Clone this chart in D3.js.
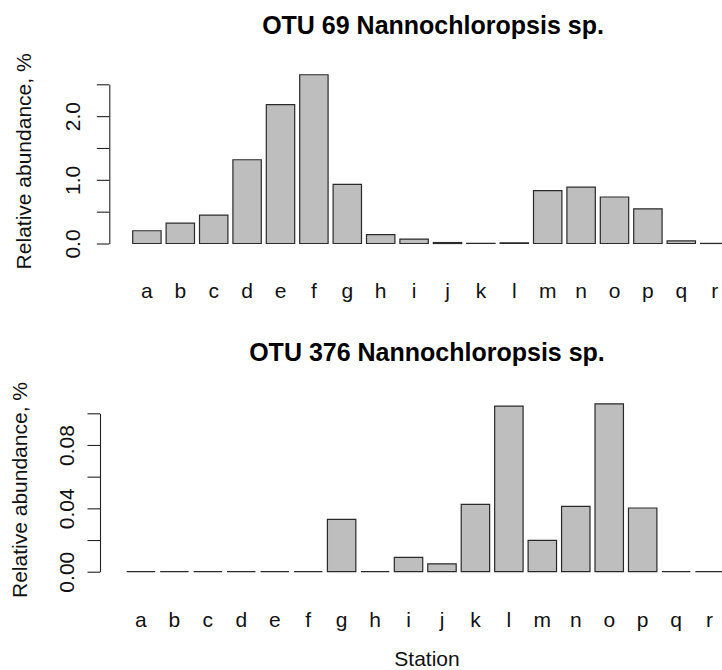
<!DOCTYPE html>
<html>
<head>
<meta charset="utf-8">
<script src="https://cdn.jsdelivr.net/npm/d3@7"></script>
<style>
  html, body { margin: 0; padding: 0; background: #fff; }
  svg { display: block; font-family: "Liberation Sans", Arial, Helvetica, sans-serif; }
</style>
</head>
<body>
<svg id="chart" width="722" height="670"></svg>
<script>
// Sampling stations, shared by both panels
const stations = ["a","b","c","d","e","f","g","h","i","j","k","l","m","n","o","p","q","r"];

// Relative abundance (%) of OTU 69 at each station
const otu69 = [0.20, 0.32, 0.445, 1.315, 2.18, 2.65, 0.93, 0.14, 0.07, 0.015, 0.004, 0.01,
               0.83, 0.885, 0.73, 0.545, 0.04, 0.002];

// Relative abundance (%) of OTU 376 at each station
const otu376 = [0, 0, 0, 0, 0, 0, 0.033, 0, 0.009, 0.005, 0.0425, 0.1045,
                0.0198, 0.0413, 0.106, 0.0402, 0, 0];

// Y-axis ticks and the subset that carries a label
const ticks69 = [0, 0.5, 1.0, 1.5, 2.0, 2.5];
const labels69 = ["0.0", "", "1.0", "", "2.0", ""];
const ticks376 = [0, 0.02, 0.04, 0.06, 0.08, 0.10];
const labels376 = ["0.00", "", "0.04", "", "0.08", ""];

const titles = ["OTU 69 Nannochloropsis sp.", "OTU 376 Nannochloropsis sp."];
const yTitle = "Relative abundance, %";
const xTitle = "Station";

const svg = d3.select("#chart");
svg.append("rect").attr("width", 722).attr("height", 670).attr("fill", "#fff");

// Each panel's plot region runs past the right edge of the page
const panels = [
  { values: otu69, ticks: ticks69, labels: labels69, title: titles[0],
    axisX: 109.3, yBase: 243.5, yTop: 84.3, xStart: 130.2, xEnd: 731.4,
    tickGap: 29, yTitleX: 31, titleY: 34, titleX: 433, labelY: 298 },
  { values: otu376, ticks: ticks376, labels: labels376, title: titles[1],
    axisX: 100, yBase: 571.7, yTop: 413.3, xStart: 124.2, xEnd: 726.3,
    tickGap: 26, yTitleX: 27, titleY: 361, titleX: 427, labelY: 627 }
];

panels.forEach(p => {
  const g = svg.append("g");

  const x = d3.scaleBand()
    .domain(stations)
    .range([p.xStart, p.xEnd])
    .paddingInner(0.15)
    .paddingOuter(0.075);

  const y = d3.scaleLinear()
    .domain([p.ticks[0], p.ticks[p.ticks.length - 1]])
    .range([p.yBase, p.yTop]);

  // Bars: drawn as paths so zero-height bars still show their outline
  g.selectAll("path.bar")
    .data(p.values)
    .join("path")
    .attr("class", "bar")
    .attr("d", (v, i) => {
      const path = d3.path();
      const yv = y(v);
      path.rect(x(stations[i]), yv, x.bandwidth(), y(0) - yv);
      return path.toString();
    })
    .attr("fill", "#bebebe")
    .attr("stroke", "#2a2a2a")
    .attr("stroke-width", 1.2);

  // Y axis with vertical tick labels
  const axis = d3.axisLeft(y)
    .tickValues(p.ticks)
    .tickFormat((d, i) => p.labels[i])
    .tickSizeInner(12.5)
    .tickSizeOuter(0);

  const ag = g.append("g")
    .attr("transform", `translate(${p.axisX},0)`)
    .call(axis);
  ag.select(".domain").attr("stroke", "#222").attr("stroke-width", 1.1);
  ag.selectAll(".tick line").attr("stroke", "#222").attr("stroke-width", 1.1);
  ag.selectAll(".tick text")
    .attr("transform", "rotate(-90)")
    .attr("x", 0)
    .attr("y", -p.tickGap)
    .attr("dy", 0)
    .attr("text-anchor", "middle")
    .attr("fill", "#111")
    .style("font-family", "'Liberation Sans', Arial, sans-serif")
    .style("font-size", "21px");

  // Station labels under the bars
  g.selectAll("text.xlab")
    .data(stations)
    .join("text")
    .attr("class", "xlab")
    .attr("x", d => x(d) + x.bandwidth() / 2)
    .attr("y", p.labelY)
    .attr("text-anchor", "middle")
    .attr("fill", "#111")
    .style("font-size", "21px")
    .text(d => d);

  // Y-axis title
  g.append("text")
    .attr("transform", `translate(${p.yTitleX},${(p.yBase + p.yTop) / 2 - 2.5}) rotate(-90)`)
    .attr("text-anchor", "middle")
    .attr("fill", "#111")
    .style("font-size", "21px")
    .text(yTitle);

  // Panel title
  g.append("text")
    .attr("x", p.titleX)
    .attr("y", p.titleY)
    .attr("text-anchor", "middle")
    .attr("fill", "#000")
    .style("font-size", "25px")
    .style("font-weight", "bold")
    .text(p.title);
});

// Shared x-axis title below the lower panel
svg.append("text")
  .attr("x", 427)
  .attr("y", 666)
  .attr("text-anchor", "middle")
  .attr("fill", "#111")
  .style("font-size", "21px")
  .text(xTitle);
</script>
</body>
</html>
